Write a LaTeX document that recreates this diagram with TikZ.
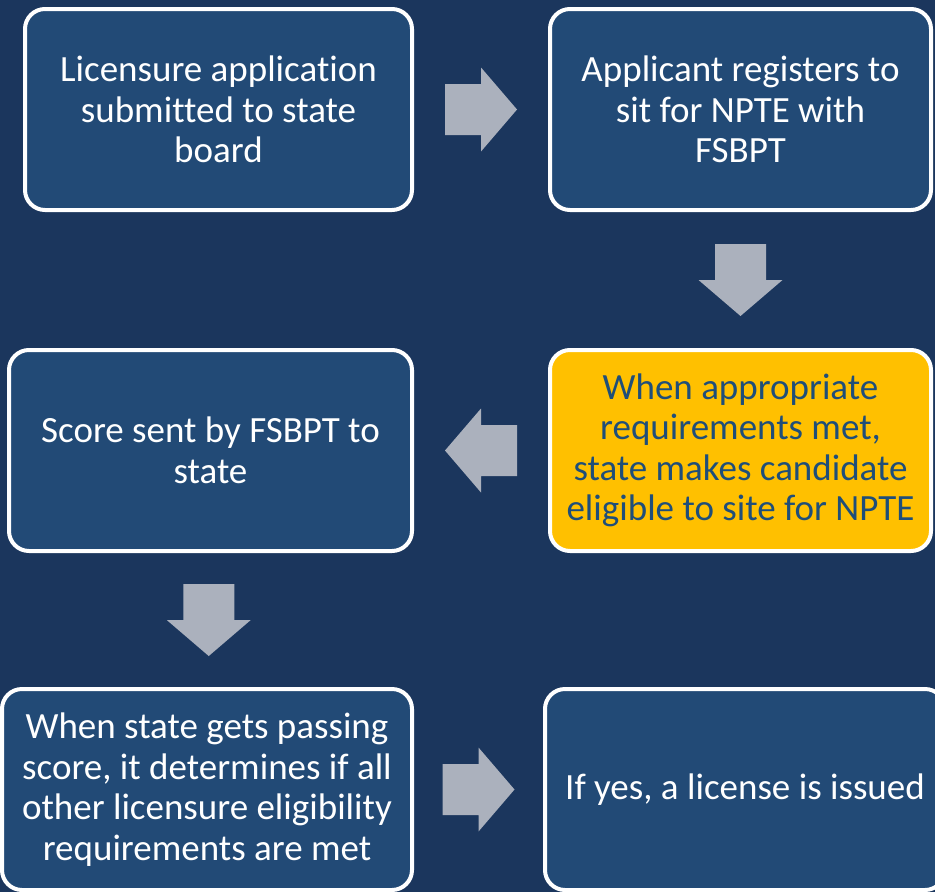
\documentclass[tikz,border=0pt]{standalone}
\usepackage{fontspec}
\setmainfont{Carlito}[Ligatures={NoCommon}]
\usetikzlibrary{calc}
\definecolor{bgblue}{HTML}{1B365D}
\definecolor{boxblue}{HTML}{224A76}
\definecolor{gold}{HTML}{FFC000}
\definecolor{darktext}{HTML}{1F4E79}
\definecolor{arrowgray}{HTML}{ABB1BD}
\tikzset{
  stepbox/.style={draw=white, line width=4pt, rounded corners=20pt,
    fill=boxblue, text=white, align=center, inner sep=0pt,
    font=\fontsize{37}{40.5}\selectfont},
  goldbox/.style={stepbox, fill=gold, text=darktext},
  blockarrow/.pic={
    \fill[arrowgray] (-36,-25.5) -- (0,-25.5) -- (0,-42) -- (36,0)
      -- (0,42) -- (0,25.5) -- (-36,25.5) -- cycle;
  }
}
\begin{document}
\begin{tikzpicture}[x=1pt,y=-1pt]
  \fill[bgblue] (0,0) rectangle (935,892);
  \useasboundingbox (0,0) rectangle (935,892);
  \begin{scope}
    \clip (0,0) rectangle (935,892);
    % process steps
    \node[stepbox, minimum width=387pt, minimum height=201pt] (apply) at (218.5,109.5)
      {Licensure application\\submitted to state\\board};
    \node[stepbox, minimum width=381pt, minimum height=201pt] (register) at (740.5,109.5)
      {Applicant registers to\\sit for NPTE with\\FSBPT};
    \node[goldbox, minimum width=381pt, minimum height=201pt] (eligible) at (740.5,450.5)
      {When appropriate\\requirements met,\\state makes candidate\\eligible to site for NPTE};
    \node[stepbox, minimum width=403pt, minimum height=201pt] (score) at (210.5,450.5)
      {Score sent by FSBPT to\\state};
    \node[stepbox, minimum width=410pt, minimum height=201pt] (passing) at (207,789.5)
      {When state gets passing\\score, it determines if all\\other licensure eligibility\\requirements are met};
    \node[stepbox, minimum width=400pt, minimum height=201pt] (license) at (745,789.5)
      {If yes, a license is issued};
    % block arrows between the steps
    \coordinate (a1) at ($(apply.east)!0.5!(register.west)$);
    \coordinate (a2) at ($(register.south)!0.5!(eligible.north)$);
    \coordinate (a3) at ($(eligible.west)!0.5!(score.east)$);
    \coordinate (a4) at ($(score.south)!0.5!(passing.north)$);
    \coordinate (a5) at ($(passing.east)!0.5!(license.west)$);
    \pic at (a1) {blockarrow};
    \pic[rotate=-90] at (a2) {blockarrow};
    \pic[rotate=180] at (a3) {blockarrow};
    \pic[rotate=-90] at (a4) {blockarrow};
    \pic at (a5) {blockarrow};
  \end{scope}
\end{tikzpicture}
\end{document}
